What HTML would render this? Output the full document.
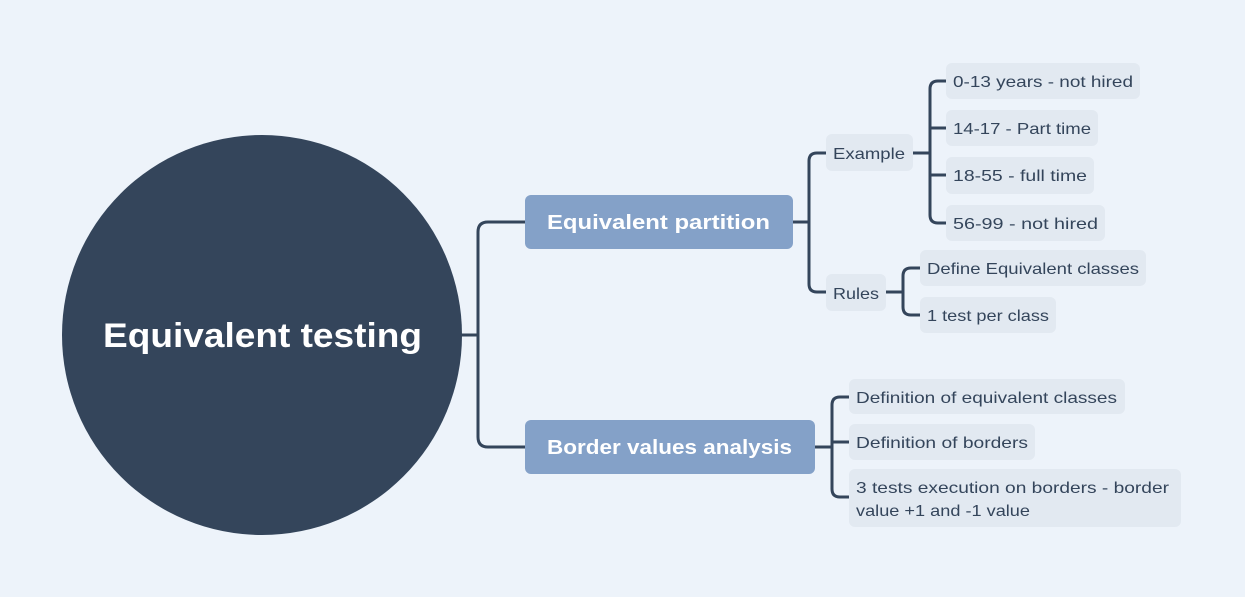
<!DOCTYPE html>
<html><head><meta charset="utf-8"><style>
html,body{margin:0;padding:0;background:#edf3fa;}
svg{display:block}
text{font-family:"Liberation Sans",sans-serif}
.l{fill:#e2e9f1}
.t{fill:#34455b;font-size:16px}
.c{fill:none;stroke:#34455b;stroke-width:3;stroke-linecap:round;stroke-linejoin:round}
</style></head><body>
<svg width="1245" height="597" viewBox="0 0 1245 597" xmlns="http://www.w3.org/2000/svg">
<rect width="1245" height="597" fill="#edf3fa"/>
<path class="c" d="M462 335H478M525 222H488Q478 222 478 232V437Q478 447 488 447H525"/>
<path class="c" d="M793 222H809M826 153H817Q809 153 809 161V284Q809 292 817 292H826"/>
<path class="c" d="M913 153H930M946 81H938Q930 81 930 89V215Q930 223 938 223H946M930 128H946M930 175H946"/>
<path class="c" d="M886 292H903M920 268H911Q903 268 903 276V307Q903 315 911 315H920"/>
<path class="c" d="M815 447H832M849 397H840Q832 397 832 405V489Q832 497 840 497H849M832 442H849"/>
<circle cx="262" cy="335" r="200" fill="#34455b"/>
<text x="103" y="347" fill="#fff" font-size="34" font-weight="bold" textLength="319" lengthAdjust="spacingAndGlyphs">Equivalent testing</text>
<rect x="525" y="195" width="268" height="54" rx="6" fill="#84a1c8"/>
<text x="547" y="229" fill="#fff" font-size="20" font-weight="bold" textLength="223" lengthAdjust="spacingAndGlyphs">Equivalent  partition</text>
<rect x="525" y="420" width="290" height="54" rx="6" fill="#84a1c8"/>
<text x="547" y="454" fill="#fff" font-size="20" font-weight="bold" textLength="245" lengthAdjust="spacingAndGlyphs">Border values analysis</text>
<rect class="l" x="826" y="134" width="87" height="37" rx="6"/><text class="t" x="833" y="159" textLength="72" lengthAdjust="spacingAndGlyphs">Example</text>
<rect class="l" x="826" y="274" width="60" height="37" rx="6"/><text class="t" x="833" y="299" textLength="46" lengthAdjust="spacingAndGlyphs">Rules</text>
<rect class="l" x="946" y="63" width="194" height="36" rx="6"/><text class="t" x="953" y="87" textLength="180" lengthAdjust="spacingAndGlyphs">0-13 years - not hired</text>
<rect class="l" x="946" y="110" width="152" height="36" rx="6"/><text class="t" x="953" y="134" textLength="138" lengthAdjust="spacingAndGlyphs">14-17 - Part time</text>
<rect class="l" x="946" y="157" width="148" height="37" rx="6"/><text class="t" x="953" y="181" textLength="134" lengthAdjust="spacingAndGlyphs">18-55 - full time</text>
<rect class="l" x="946" y="205" width="159" height="36" rx="6"/><text class="t" x="953" y="229" textLength="145" lengthAdjust="spacingAndGlyphs">56-99 - not hired</text>
<rect class="l" x="920" y="250" width="226" height="36" rx="6"/><text class="t" x="927" y="274" textLength="212" lengthAdjust="spacingAndGlyphs">Define Equivalent classes</text>
<rect class="l" x="920" y="297" width="136" height="36" rx="6"/><text class="t" x="927" y="321" textLength="122" lengthAdjust="spacingAndGlyphs">1 test per class</text>
<rect class="l" x="849" y="379" width="276" height="35" rx="6"/><text class="t" x="856" y="403" textLength="261" lengthAdjust="spacingAndGlyphs">Definition of equivalent classes</text>
<rect class="l" x="849" y="424" width="186" height="36" rx="6"/><text class="t" x="856" y="448" textLength="172" lengthAdjust="spacingAndGlyphs">Definition of borders</text>
<rect class="l" x="849" y="469" width="332" height="58" rx="6"/><text class="t" x="856" y="493" textLength="313" lengthAdjust="spacingAndGlyphs">3 tests execution on borders - border</text><text class="t" x="856" y="516" textLength="174" lengthAdjust="spacingAndGlyphs">value +1 and -1 value</text>
</svg>
</body></html>
